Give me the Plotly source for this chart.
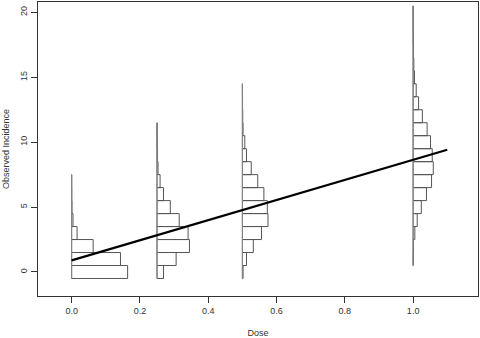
import plotly.graph_objects as go

# Doses at which histograms are drawn
doses = [0.0, 0.25, 0.5, 1.0]

# Bin centres (observed incidence, bin width 1) and horizontal bar lengths (in dose units)
bins_0 = [0, 1, 2, 3, 4, 5, 6, 7]
widths_0 = [0.164, 0.143, 0.063, 0.016, 0.004, 0.001, 0.0003, 0.0001]

bins_025 = [0, 1, 2, 3, 4, 5, 6, 7, 8, 9, 10, 11]
widths_025 = [0.019, 0.056, 0.095, 0.091, 0.065, 0.039, 0.019, 0.009, 0.003, 0.001, 0.0005, 0.0002]

bins_05 = [0, 1, 2, 3, 4, 5, 6, 7, 8, 9, 10, 11, 12, 13, 14]
widths_05 = [0.002, 0.012, 0.032, 0.056, 0.075, 0.073, 0.063, 0.045, 0.026, 0.012,
             0.007, 0.002, 0.001, 0.0005, 0.0002]

bins_1 = [1, 2, 3, 4, 5, 6, 7, 8, 9, 10, 11, 12, 13, 14, 15, 16, 17, 18, 19, 20]
widths_1 = [0.0005, 0.001, 0.005, 0.012, 0.024, 0.039, 0.054, 0.059, 0.056, 0.051,
            0.041, 0.027, 0.016, 0.009, 0.004, 0.002, 0.001, 0.0005, 0.0002, 0.0001]

# Fitted regression line
line_x = [0.0, 1.1]
line_y = [0.89, 9.42]

x_ticks = [0.0, 0.2, 0.4, 0.6, 0.8, 1.0]
y_ticks = [0, 5, 10, 15, 20]

groups = [(doses[0], bins_0, widths_0), (doses[1], bins_025, widths_025),
          (doses[2], bins_05, widths_05), (doses[3], bins_1, widths_1)]

fig = go.Figure()
for d, b, w in groups:
    fig.add_trace(go.Bar(
        y=b, x=w, base=[d] * len(b), orientation="h", width=1,
        marker=dict(color="rgba(0,0,0,0)", line=dict(color="#555555", width=1)),
        showlegend=False, hoverinfo="skip"))
    fig.add_trace(go.Scatter(
        x=[d, d], y=[min(b) - 0.5, max(b) + 0.5], mode="lines",
        line=dict(color="#888888", width=1), showlegend=False, hoverinfo="skip"))

fig.add_trace(go.Scatter(x=line_x, y=line_y, mode="lines",
                         line=dict(color="black", width=2.2), showlegend=False))

font = dict(family="Liberation Sans, Arial, sans-serif", size=9, color="#333333")
fig.update_layout(
    width=480, height=338, barmode="overlay",
    margin=dict(l=38, r=1, t=1, b=41),
    plot_bgcolor="white", paper_bgcolor="white", font=font,
    xaxis=dict(range=[-0.0985, 1.19], tickvals=x_ticks, tickformat=".1f",
               showgrid=False, zeroline=False, showline=True, mirror=True,
               linecolor="#333333", linewidth=1, ticks="outside", ticklen=6,
               tickcolor="#333333",
               title=dict(text="Dose", font=font, standoff=15)),
    yaxis=dict(range=[-1.85, 20.8], tickvals=y_ticks, tickangle=-90,
               showgrid=False, zeroline=False, showline=True, mirror=True,
               linecolor="#333333", linewidth=1, ticks="outside", ticklen=6,
               tickcolor="#333333",
               title=dict(text="Observed Incidence", font=font, standoff=8)),
)

fig.write_html("out.html")
